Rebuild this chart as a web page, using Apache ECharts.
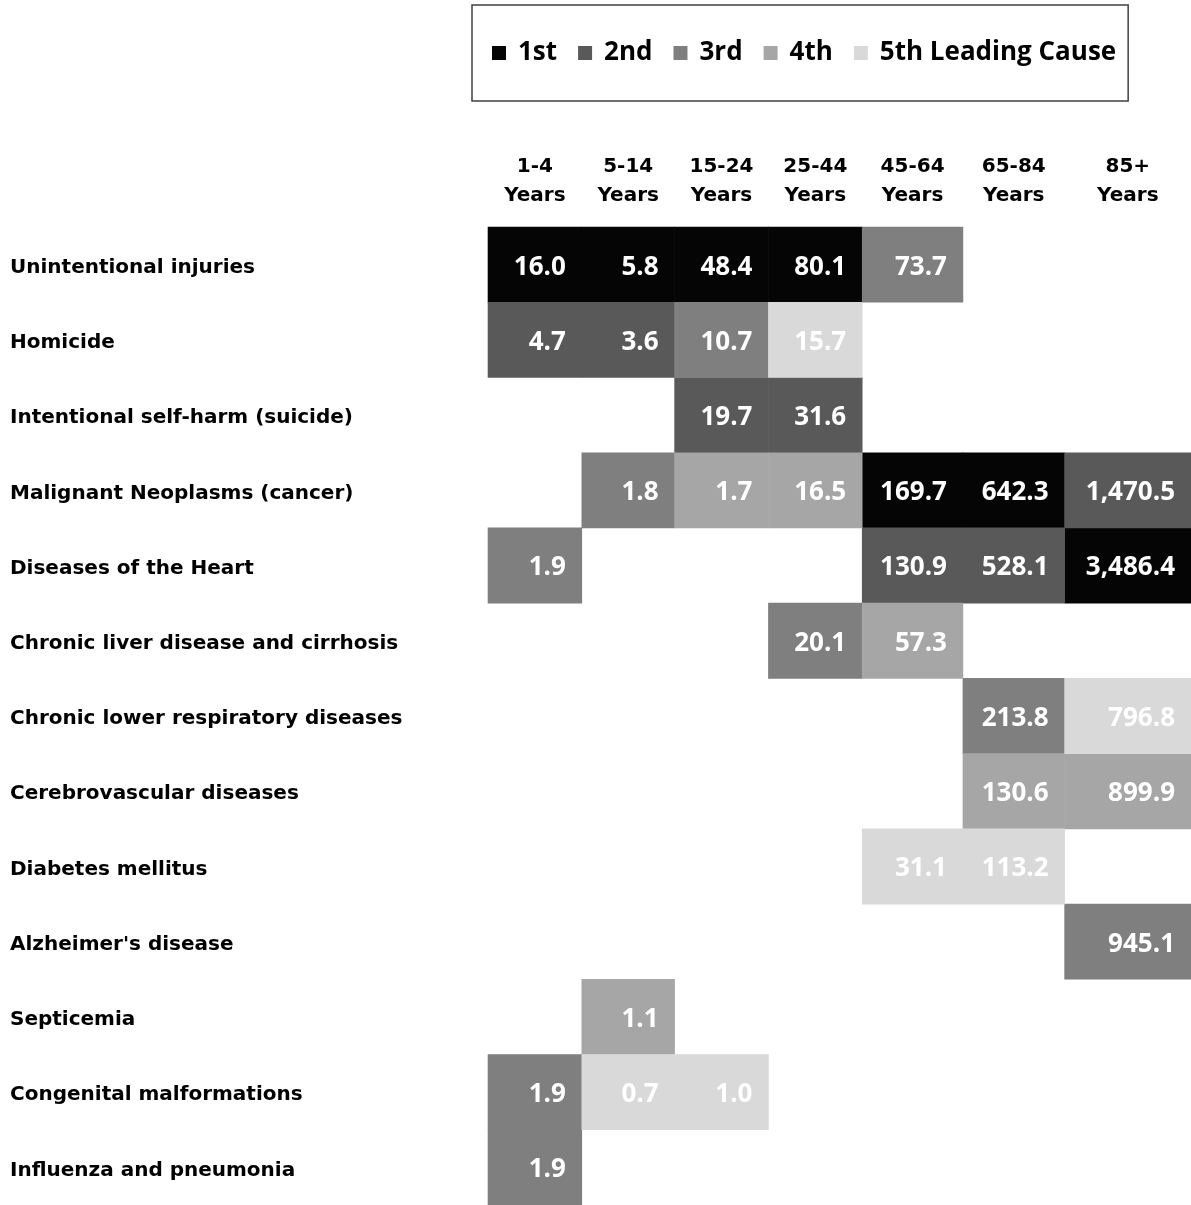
<!DOCTYPE html>
<html>
<head>
<meta charset="utf-8">
<script src="https://cdn.jsdelivr.net/npm/echarts@6/dist/echarts.min.js"></script>
<style>
  html, body { margin: 0; padding: 0; background: #fff; }
  #chart { width: 1191px; height: 1205px; }
</style>
</head>
<body>
<div id="chart"></div>
<script>
// ---- Data ----
const ageGroups = ['1-4\nYears', '5-14\nYears', '15-24\nYears', '25-44\nYears', '45-64\nYears', '65-84\nYears', '85+\nYears'];
const causes = [
  'Unintentional injuries',
  'Homicide',
  'Intentional self-harm (suicide)',
  'Malignant Neoplasms (cancer)',
  'Diseases of the Heart',
  'Chronic liver disease and cirrhosis',
  'Chronic lower respiratory diseases',
  'Cerebrovascular diseases',
  'Diabetes mellitus',
  "Alzheimer's disease",
  'Septicemia',
  'Congenital malformations',
  'Influenza and pneumonia'
];
const rankNames = ['1st', '2nd', '3rd', '4th', '5th Leading Cause'];
// death rates per cause, by age group (null = not among top 5)
const rates = [
  [16.0, 5.8, 48.4, 80.1, 73.7, null, null],
  [4.7, 3.6, 10.7, 15.7, null, null, null],
  [null, null, 19.7, 31.6, null, null, null],
  [null, 1.8, 1.7, 16.5, 169.7, 642.3, 1470.5],
  [1.9, null, null, null, 130.9, 528.1, 3486.4],
  [null, null, null, 20.1, 57.3, null, null],
  [null, null, null, null, null, 213.8, 796.8],
  [null, null, null, null, null, 130.6, 899.9],
  [null, null, null, null, 31.1, 113.2, null],
  [null, null, null, null, null, null, 945.1],
  [null, 1.1, null, null, null, null, null],
  [1.9, 0.7, 1.0, null, null, null, null],
  [1.9, null, null, null, null, null, null]
];
// rank of cause within age group (0 = none)
const ranks = [
  [1, 1, 1, 1, 3, 0, 0],
  [2, 2, 3, 5, 0, 0, 0],
  [0, 0, 2, 2, 0, 0, 0],
  [0, 3, 4, 4, 1, 1, 2],
  [3, 0, 0, 0, 2, 2, 1],
  [0, 0, 0, 3, 4, 0, 0],
  [0, 0, 0, 0, 0, 3, 5],
  [0, 0, 0, 0, 0, 4, 4],
  [0, 0, 0, 0, 5, 5, 0],
  [0, 0, 0, 0, 0, 0, 3],
  [0, 4, 0, 0, 0, 0, 0],
  [3, 5, 5, 0, 0, 0, 0],
  [3, 0, 0, 0, 0, 0, 0]
];

// ---- Layout / style ----
const rankColors = ['#050505', '#595959', '#7f7f7f', '#a6a6a6', '#d9d9d9'];
const colWidths = [95, 94, 95, 95, 102, 103, 128]; // relative column widths (table layout)
const colStarts = [];
colWidths.reduce((acc, w) => { colStarts.push(acc); return acc + w; }, 0);
const totalWidth = colWidths.reduce((a, b) => a + b, 0);
const colCenters = colStarts.map((s, i) => s + colWidths[i] / 2);

const fmt = v => v.toLocaleString('en-US', { minimumFractionDigits: 1, maximumFractionDigits: 1 });

const seriesData = rankNames.map(() => []);
rates.forEach((row, r) => {
  row.forEach((v, c) => {
    const rk = ranks[r][c];
    if (v !== null && rk > 0) seriesData[rk - 1].push([c, r, v]);
  });
});

const chart = echarts.init(document.getElementById('chart'), null, { renderer: 'canvas' });

const series = rankNames.map((name, k) => ({
  name: name,
  type: 'custom',
  coordinateSystem: 'cartesian2d',
  clip: false,
  itemStyle: { color: rankColors[k] },
  encode: { x: 0, y: 1 },
  data: seriesData[k],
  renderItem: (params, api) => {
    const c = api.value(0), r = api.value(1), v = api.value(2);
    const x0 = colStarts[c], x1 = x0 + colWidths[c];
    const p0 = api.coord([x0, r]);
    const p1 = api.coord([x1, r]);
    const h = api.size([0, 1])[1];
    return {
      type: 'group',
      children: [
        {
          type: 'rect',
          shape: { x: p0[0] - 0.3, y: p0[1] - h / 2 - 0.3, width: p1[0] - p0[0] + 0.6, height: h + 0.6 },
          style: { fill: rankColors[k] }
        },
        {
          type: 'text',
          z2: 10,
          style: {
            text: fmt(v),
            x: p1[0] - 16,
            y: p0[1] + 2.5,
            align: 'right',
            verticalAlign: 'middle',
            fill: '#ffffff',
            font: 'bold 26px "Open Sans"'
          }
        }
      ]
    };
  }
}));

chart.setOption({
  animation: false,
  backgroundColor: '#ffffff',
  legend: {
    data: rankNames,
    left: 472,
    top: 5,
    padding: [35, 12, 35, 20],
    borderColor: '#404040',
    borderWidth: 1.5,
    icon: 'rect',
    itemWidth: 14,
    itemHeight: 14,
    itemGap: 21,
    selectedMode: false,
    textStyle: {
      fontFamily: 'Open Sans',
      fontWeight: 'bold',
      fontSize: 26,
      color: '#000',
      padding: [0, 0, 0, 7]
    }
  },
  grid: {
    left: 488,
    top: 227,
    width: 712,
    height: 984
  },
  xAxis: {
    type: 'value',
    position: 'top',
    min: 0,
    max: totalWidth,
    splitLine: { show: false },
    axisLine: { show: false },
    axisTick: { show: false },
    axisLabel: {
      customValues: colCenters,
      margin: 17,
      fontFamily: 'DejaVu Sans',
      fontWeight: 'bold',
      fontSize: 20,
      lineHeight: 29,
      color: '#000',
      align: 'center',
      formatter: (val) => {
        const i = colCenters.findIndex(cc => Math.abs(cc - val) < 0.01);
        return i >= 0 ? ageGroups[i] : '';
      }
    }
  },
  yAxis: {
    type: 'category',
    inverse: true,
    data: causes,
    splitLine: { show: false },
    axisLine: { show: false },
    axisTick: { show: false },
    axisLabel: {
      align: 'left',
      margin: 478,
      formatter: (v) => '{t|' + v + '}',
      rich: {
        t: {
          fontFamily: 'DejaVu Sans',
          fontWeight: 'bold',
          fontSize: 20,
          lineHeight: 20,
          color: '#000',
          padding: [6, 0, 0, 0]
        }
      }
    }
  },
  series: series
});
</script>
</body>
</html>
